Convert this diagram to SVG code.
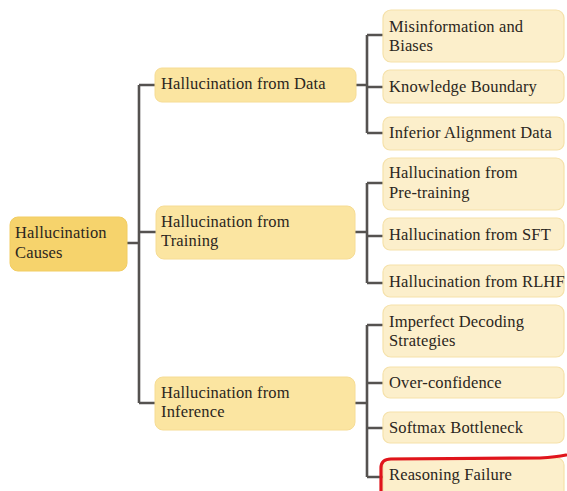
<svg xmlns="http://www.w3.org/2000/svg" width="567" height="491" viewBox="0 0 567 491">
  <style>
    .t { font-family: "Liberation Serif", "Times New Roman", serif; font-size: 16.5px; letter-spacing: 0.15px; fill: #2b2620; }
    .root { fill: #f6d36c; stroke: #f2cd62; stroke-width: 1; }
    .mid { fill: #fbe5a1; stroke: #f6dc94; stroke-width: 1; }
    .leaf { fill: #fcefcb; stroke: #f5e1aa; stroke-width: 1.2; }
    .edge { fill: none; stroke: #555250; stroke-width: 2.6; stroke-linejoin: miter; }
  </style>
  <rect width="567" height="491" fill="#ffffff"/>

  <!-- connectors -->
  <g id="connectors">
    <path class="edge" d="M127,243 H139 M139,85 V403 M139,85 H155 M139,232 H156 M139,403 H155"/>
    <path class="edge" d="M356,85 H367 M367,35 V133 M367,35 H383 M367,87 H383 M367,133 H383"/>
    <path class="edge" d="M355,232 H367 M367,183 V283 M367,183 H383 M367,236 H383 M367,283 H383"/>
    <path class="edge" d="M355,403 H367 M367,325 V477 M367,325 H383 M367,383 H383 M367,428 H383 M367,477 H383"/>
  </g>

  <!-- root -->
  <g id="root">
    <rect class="root" x="10" y="217" width="117" height="54" rx="8"/>
    <text class="t" x="15" y="238">Hallucination</text>
    <text class="t" x="15" y="258">Causes</text>
  </g>

  <!-- second level -->
  <g id="data">
    <rect class="mid" x="155" y="68" width="201" height="34" rx="7"/>
    <text class="t" x="161" y="89">Hallucination from Data</text>
  </g>
  <g id="training">
    <rect class="mid" x="156" y="206" width="199" height="53" rx="8"/>
    <text class="t" x="161" y="227">Hallucination from</text>
    <text class="t" x="161" y="246">Training</text>
  </g>
  <g id="inference">
    <rect class="mid" x="155" y="377" width="200" height="53" rx="8"/>
    <text class="t" x="161" y="398">Hallucination from</text>
    <text class="t" x="161" y="417">Inference</text>
  </g>

  <!-- leaves: data -->
  <g id="misinformation">
    <rect class="leaf" x="383" y="10" width="181" height="52" rx="8"/>
    <text class="t" x="389" y="32">Misinformation and</text>
    <text class="t" x="389" y="51">Biases</text>
  </g>
  <g id="knowledge-boundary">
    <rect class="leaf" x="383" y="70" width="181" height="33" rx="7"/>
    <text class="t" x="389" y="92">Knowledge Boundary</text>
  </g>
  <g id="inferior-alignment">
    <rect class="leaf" x="383" y="117" width="181" height="33" rx="7"/>
    <text class="t" x="389" y="138">Inferior Alignment Data</text>
  </g>

  <!-- leaves: training -->
  <g id="pretraining">
    <rect class="leaf" x="383" y="158" width="181" height="52" rx="8"/>
    <text class="t" x="389" y="178">Hallucination from</text>
    <text class="t" x="389" y="198">Pre-training</text>
  </g>
  <g id="sft">
    <rect class="leaf" x="383" y="218" width="181" height="32" rx="7"/>
    <text class="t" x="389" y="240">Hallucination from SFT</text>
  </g>
  <g id="rlhf">
    <rect class="leaf" x="383" y="265" width="181" height="32" rx="7"/>
    <text class="t" x="389" y="287">Hallucination from RLHF</text>
  </g>

  <!-- leaves: inference -->
  <g id="decoding">
    <rect class="leaf" x="383" y="305" width="181" height="52" rx="8"/>
    <text class="t" x="389" y="327">Imperfect Decoding</text>
    <text class="t" x="389" y="346">Strategies</text>
  </g>
  <g id="overconfidence">
    <rect class="leaf" x="383" y="367" width="181" height="31" rx="7"/>
    <text class="t" x="389" y="388">Over-confidence</text>
  </g>
  <g id="softmax">
    <rect class="leaf" x="383" y="412" width="181" height="31" rx="7"/>
    <text class="t" x="389" y="433">Softmax Bottleneck</text>
  </g>
  <g id="reasoning">
    <rect class="leaf" x="383" y="458" width="181" height="40" rx="7"/>
    <text class="t" x="389" y="480">Reasoning Failure</text>
  </g>

  <!-- red highlight -->
  <path d="M381,500 V468 Q381,459 391,459 L540,458 Q556,457 566,455" fill="none" stroke="#e0141c" stroke-width="3.2" stroke-linecap="round"/>
</svg>
